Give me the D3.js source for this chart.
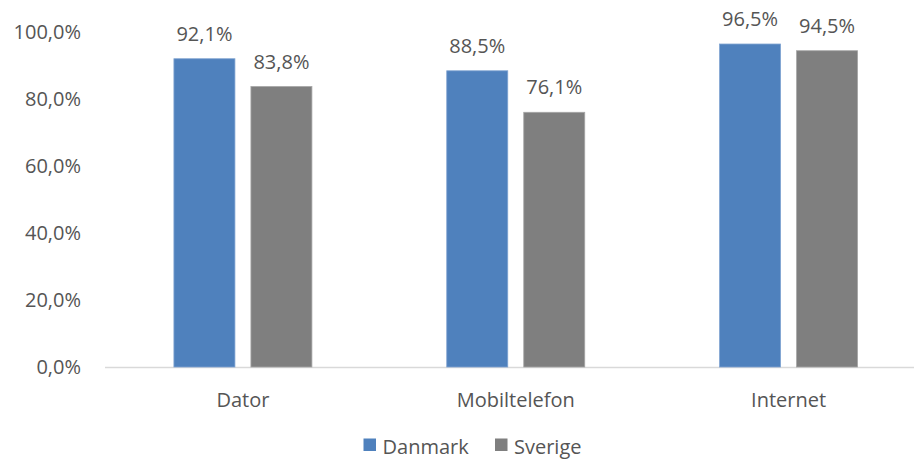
<!DOCTYPE html>
<html><head><meta charset="utf-8">
<script src="https://cdn.jsdelivr.net/npm/d3@7/dist/d3.min.js"></script>
<style>
body{margin:0;background:#fff;}
text{font-family:"Open Sans",sans-serif;fill:#555555;}
</style></head><body>
<svg id="c" width="914" height="459"></svg>
<script>
const categories = ["Dator", "Mobiltelefon", "Internet"];
const seriesNames = ["Danmark", "Sverige"];
const danmark = [92.1, 88.5, 96.5];
const sverige = [83.8, 76.1, 94.5];
const yTicks = [0, 20, 40, 60, 80, 100];
const colors = ["#4f81bd", "#7f7f7f"];

const svg = d3.select("#c");
const fmt = v => d3.format(".1f")(v).replace(".", ",") + "%";
const FS = "20px";

const y = d3.scaleLinear().domain([0, 100]).range([367, 32.3]);
const x0 = d3.scaleBand().domain(categories).range([106.5, 925]).paddingInner(0).paddingOuter(0);
const groupW = 138;
const x1 = d3.scaleBand().domain(seriesNames).range([0, groupW]).paddingInner(16/77).paddingOuter(0);

// baseline
svg.append("line").attr("x1", 105).attr("x2", 914).attr("y1", y(0)+0.5).attr("y2", y(0)+0.5)
  .attr("stroke", "#d9d9d9").attr("stroke-width", 1.5);

// y axis labels
const yAxis = d3.axisLeft(y).tickValues(yTicks).tickFormat(fmt).tickSize(0).tickPadding(0);
const ga = svg.append("g").attr("transform", "translate(81,0)").call(yAxis);
ga.select(".domain").remove();
ga.selectAll("text").style("font-size", FS).style("font-family", "'Open Sans',sans-serif").attr("fill", "#555555").attr("dy", "0.33em");

const data = [danmark, sverige];
const groups = svg.append("g").selectAll("g").data(categories).join("g")
  .attr("transform", d => `translate(${x0(d) + (x0.bandwidth() - groupW) / 2},0)`);

groups.each(function(cat, ci) {
  const g = d3.select(this);
  seriesNames.forEach((s, si) => {
    const v = data[si][ci];
    g.append("rect").attr("x", x1(s)).attr("width", x1.bandwidth())
      .attr("y", y(v)).attr("height", y(0) - y(v))
      .attr("fill", colors[si]).attr("stroke", si === 0 ? "#7fa3d1" : "#a6a6a6").attr("stroke-width", 0.8);
    g.append("text").attr("x", x1(s) + x1.bandwidth() / 2).attr("y", y(v) - 18)
      .attr("text-anchor", "middle").style("font-size", FS).text(fmt(v));
  });
});

// category labels
svg.append("g").selectAll("text").data(categories).join("text")
  .attr("x", d => x0(d) + x0.bandwidth() / 2).attr("y", 407)
  .attr("text-anchor", "middle").style("font-size", FS).text(d => d);

// legend
const legend = [{n: "Danmark", x: 363.5}, {n: "Sverige", x: 495}];
legend.forEach((l, i) => {
  svg.append("rect").attr("x", l.x).attr("y", 438.5).attr("width", 12.5).attr("height", 12.5).attr("fill", colors[i]);
  svg.append("text").attr("x", l.x + 19).attr("y", 454).style("font-size", FS).text(l.n);
});
</script>
</body></html>
